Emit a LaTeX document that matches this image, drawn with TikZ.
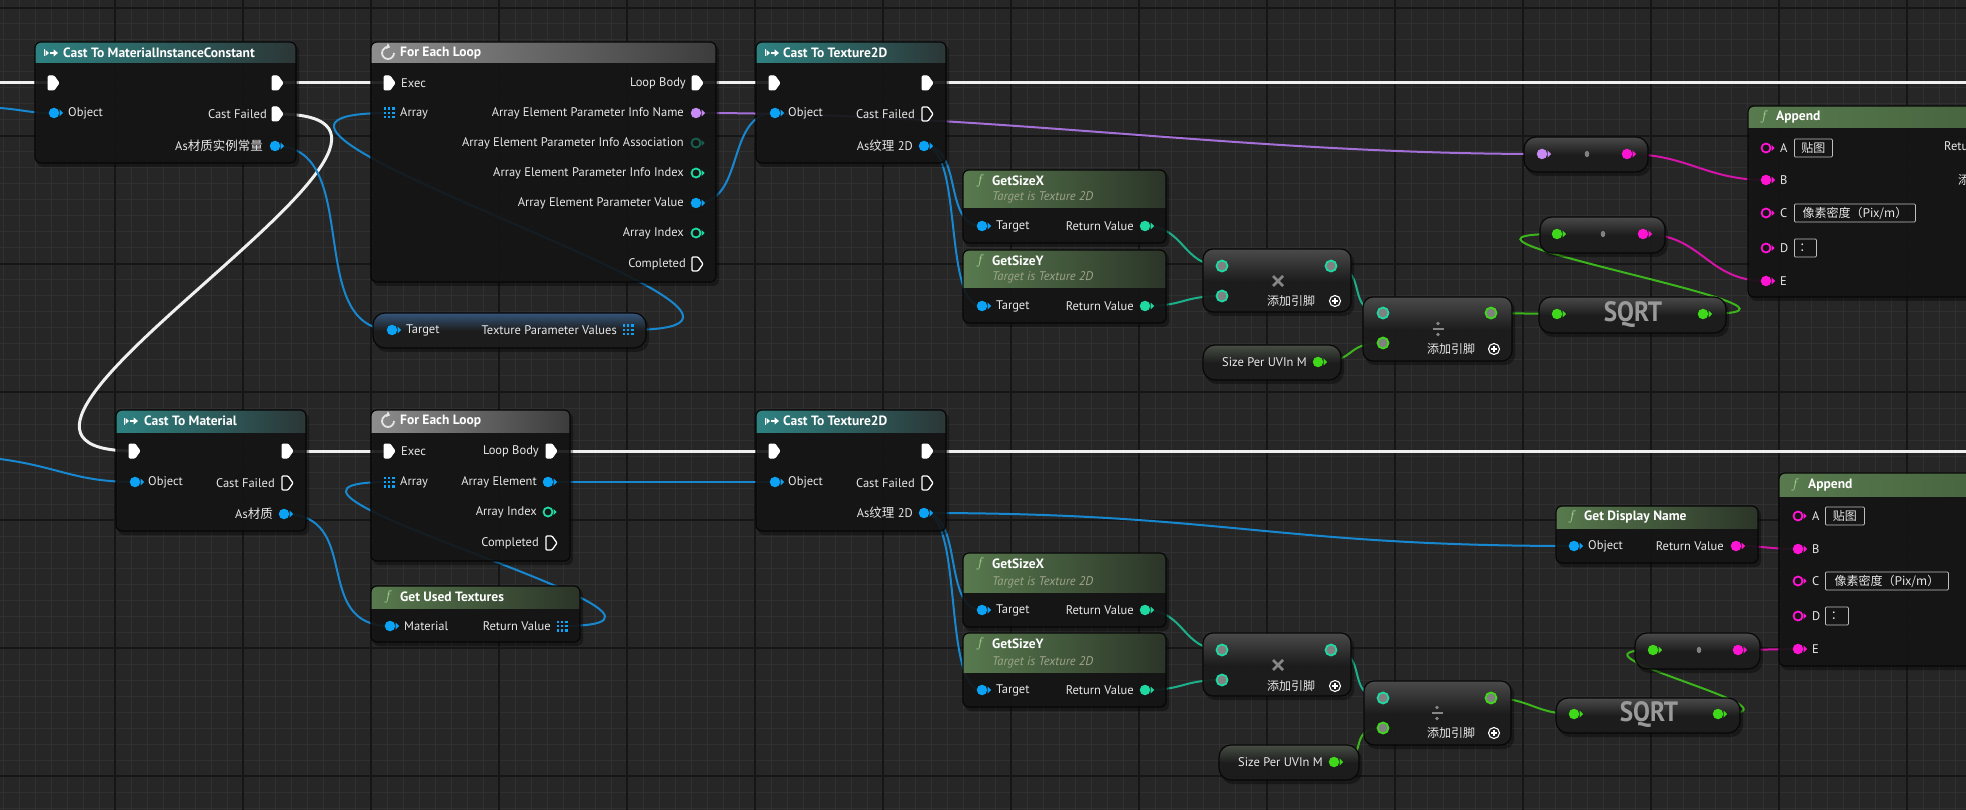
\documentclass[tikz,border=0pt]{standalone}
\usepackage{fontspec}
\usepackage{graphicx}
\setmainfont{PT Sans}
\newfontfamily\cjk{Noto Sans CJK SC}
\usetikzlibrary{arrows.meta}
\pgfdeclarelayer{gridl}
\pgfdeclarelayer{wirel}
\pgfsetlayers{gridl,wirel,main}
\definecolor{bgc}{HTML}{262626}
\definecolor{minorc}{HTML}{303030}
\definecolor{majorc}{HTML}{161616}
\definecolor{bodyc}{HTML}{151515}
\definecolor{compc}{HTML}{1d1d1d}
\definecolor{framec}{HTML}{070707}
\definecolor{castL}{HTML}{2e8282}
\definecolor{castR}{HTML}{2c3636}
\definecolor{loopL}{HTML}{8e8e8e}
\definecolor{loopR}{HTML}{3c3c3c}
\definecolor{funcL}{HTML}{587a4e}
\definecolor{funcR}{HTML}{2b3428}
\definecolor{funcM}{HTML}{46643f}
\definecolor{compTop}{HTML}{4a4a4a}
\definecolor{blueTop}{HTML}{34557a}
\definecolor{varTop}{HTML}{474e44}
\definecolor{pblue}{HTML}{0aa3f5}
\definecolor{ppurp}{HTML}{c88af5}
\definecolor{pteal}{HTML}{1ed9a2}
\definecolor{pdteal}{HTML}{17604f}
\definecolor{pgreen}{HTML}{3fd81a}
\definecolor{pmag}{HTML}{ff14d4}
\definecolor{pgray}{HTML}{808080}
\definecolor{wblue}{HTML}{1788cf}
\definecolor{wpurp}{HTML}{a46fd6}
\definecolor{wteal}{HTML}{1cb08a}
\definecolor{wgreen}{HTML}{3cb41c}
\definecolor{wmag}{HTML}{d414a8}
\definecolor{txtc}{HTML}{e8e8e8}
\definecolor{subc}{HTML}{9ea58a}
\definecolor{fcol}{HTML}{a6d58e}
\definecolor{symc}{HTML}{9a9a9a}

\newcommand\uebox[8]{%
  \fill[black,opacity=0.35,rounded corners=6] (#2+2,#3+3) rectangle (#4+3,#5+4);
  \begin{scope}
    \clip[rounded corners=6] (#2,#3) rectangle (#4,#5);
    \fill[bodyc,fill opacity=0.88] (#2,#3) rectangle (#4,#5);
    \shade[left color=#7,right color=#8] (#2,#3) rectangle (#4,#6);
  \end{scope}
  \node[nodeframe,minimum width={(#4-#2)*1pt},minimum height={(#5-#3)*1pt}] (#1) at ({(#2+#4)/2},{(#3+#5)/2}) {};
}
\newcommand\uecomp[7]{%
  \fill[black,opacity=0.35,rounded corners=#7] (#2+2,#3+3) rectangle (#4+3,#5+4);
  \begin{scope}
    \clip[rounded corners=#7] (#2,#3) rectangle (#4,#5);
    \fill[compc,fill opacity=0.9] (#2,#3) rectangle (#4,#5);
    \shade[top color=#6,bottom color=compc] (#2,#3) rectangle (#4,{#3+(#5-#3)*0.5});
  \end{scope}
  \node[nodeframe,rounded corners=#7,minimum width={(#4-#2)*1pt},minimum height={(#5-#3)*1pt}] (#1) at ({(#2+#4)/2},{(#3+#5)/2}) {};
}
\newcommand\dpin[4]{%
  \fill[#4] (#2+5.5,#3-3.5) -- (#2+9,#3) -- (#2+5.5,#3+3.5) -- cycle;
  \node[circle,inner sep=0,minimum size=10.5,fill=#4] (#1) at (#2,#3) {};
}
\newcommand\hpin[4]{%
  \fill[#4] (#2+5.5,#3-3) -- (#2+8.5,#3) -- (#2+5.5,#3+3) -- cycle;
  \node[circle,inner sep=0,minimum size=9,draw=#4,line width=1.8] (#1) at (#2,#3) {};
}
\newcommand\rpin[4]{%
  \node[circle,inner sep=0,minimum size=11,draw=#4,fill=pgray,line width=1.8] (#1) at (#2,#3) {};
}
\newcommand\epin[3]{%
  \filldraw[white,line width=1,rounded corners=1] (#2-5,#3-7) -- (#2+1,#3-7) -- (#2+6,#3) -- (#2+1,#3+7) -- (#2-5,#3+7) -- cycle;
  \coordinate (#1) at (#2,#3);
}
\newcommand\ehpin[3]{%
  \draw[white,line width=1.3,rounded corners=1] (#2-5,#3-7) -- (#2+1,#3-7) -- (#2+6,#3) -- (#2+1,#3+7) -- (#2-5,#3+7) -- cycle;
  \coordinate (#1) at (#2,#3);
}
\newcommand\apin[4]{%
  \foreach \ii in {-1,0,1}{\foreach \jj in {-1,0,1}{\fill[#4] (#2+4.2*\ii-1.3,#3+4.2*\jj-1.3) rectangle ++(2.6,2.6);}}
  \coordinate (#1) at (#2,#3);
}
\newcommand\convdot[3]{%
  \fill[pgray] (#2,#3) ellipse [x radius=2.3, y radius=3.2];
  \coordinate (#1) at (#2,#3);
}
\newcommand\addpin[3]{%
  \node[circle,draw=white,line width=1.1,inner sep=0,minimum size=11] (#1) at (#2,#3) {};
  \draw[white,line width=1.3] (#2-3,#3) -- (#2+3,#3) (#2,#3-3) -- (#2,#3+3);
}
\newcommand\fic[3]{%
  \node[inner sep=0,text=fcol] (#1) at (#2,#3) {\fontsize{15}{15}\selectfont$f$};
}
\newcommand\casticon[3]{%
  \coordinate (#1) at (#2,#3);
  \draw[white,line width=0.9] (#2,#3-3.5) -- (#2,#3+3.5);
  \fill[white] (#2+1.5,#3-3) -- (#2+5,#3) -- (#2+1.5,#3+3) -- cycle;
  \draw[white,line width=1.8,-{Triangle[length=4.5,width=7]}] (#2+6,#3) -- (#2+14,#3);
}
\newcommand\loopicon[3]{%
  \coordinate (#1) at (#2,#3);
  \draw[white!90!black,line width=1.8,-{Triangle[length=3.5,width=6]}] (#2+6,#3) arc[start angle=0,end angle=290,radius=6];
}
\newcommand\mulsym[3]{%
  \coordinate (#1) at (#2,#3);
  \draw[symc!120,line width=2.6] (#2-5,#3-5) -- (#2+5,#3+5) (#2-5,#3+5) -- (#2+5,#3-5);
}
\newcommand\divsym[3]{%
  \coordinate (#1) at (#2,#3);
  \draw[symc!120,line width=2.4] (#2-5.5,#3) -- (#2+5.5,#3);
  \fill[symc!120] (#2,#3-5.5) circle [radius=1.8] (#2,#3+5.5) circle [radius=1.8];
}

\begin{document}
\begin{tikzpicture}[x=1pt,y=-1pt,
  lbl/.style={inner sep=0,text=txtc,font=\fontsize{12.5}{14}\selectfont},
  clbl/.style={inner sep=0,text=txtc,font=\cjk\fontsize{12}{14}\selectfont},
  ttl/.style={inner sep=0,text=white,font=\bfseries\fontsize{13.5}{15}\selectfont},
  subt/.style={inner sep=0,text=subc,font=\itshape\fontsize{12.5}{14}\selectfont},
  sqrtt/.style={inner sep=0,text=symc,font=\bfseries\fontsize{28}{28}\selectfont},
  nodeframe/.style={draw=framec,line width=1.2,rounded corners=6,inner sep=0},
  valbox/.style={draw=white!75!black,line width=0.8,rounded corners=1,inner sep=0,minimum height=18,text=txtc,font=\cjk\fontsize{12}{14}\selectfont,anchor=west},
  execw/.style={draw=white!94!black,line width=3,line cap=round},
  objw/.style={draw=wblue,line width=2,line cap=round},
  namew/.style={draw=wpurp,line width=2,line cap=round},
  intw/.style={draw=wteal,line width=2,line cap=round},
  fltw/.style={draw=wgreen,line width=2,line cap=round},
  strw/.style={draw=wmag,line width=2,line cap=round}]
\useasboundingbox (0,0) rectangle (1966,810);
\begin{pgfonlayer}{gridl}
  \fill[bgc] (0,0) rectangle (1966,810);
  \foreach \gx in {3,19,...,1966} \draw[minorc,line width=1] (\gx,0) -- (\gx,810);
  \foreach \gy in {8,24,...,810} \draw[minorc,line width=1] (0,\gy) -- (1966,\gy);
  \foreach \gx in {115,243,...,1966} \draw[majorc,line width=1.6] (\gx,0) -- (\gx,810);
  \foreach \gy in {8,136,...,810} \draw[majorc,line width=1.6] (0,\gy) -- (1966,\gy);
\end{pgfonlayer}

\coordinate (L0) at (0,83);
\coordinate (L1) at (0,108);
\coordinate (L2) at (0,459);
\coordinate (R1) at (1966,83);
\coordinate (R2) at (1966,451);

% ---------- TOP ROW ----------
\uebox{n1}{35}{42}{296}{163}{63}{castL}{castR}
\casticon{n1ic}{44}{53}
\node[ttl,anchor=west] (n1t) at (63,53) {Cast To MaterialInstanceConstant};
\epin{n1ei}{53}{83} \epin{n1eo}{277}{83}
\dpin{n1obj}{54}{113}{pblue} \node[lbl,anchor=west] (n1l1) at (68,113) {Object};
\epin{n1cf}{277}{114} \node[lbl,anchor=east] (n1l2) at (267,114) {Cast Failed};
\dpin{n1as}{275}{146}{pblue} \node[lbl,anchor=east] (n1l3) at (263,146) {As{\cjk 材质实例常量}};

\uebox{n2}{371}{42}{716}{282}{63}{loopL}{loopR}
\loopicon{n2ic}{388}{53}
\node[ttl,anchor=west] (n2t) at (400,53) {For Each Loop};
\epin{n2ei}{389}{83} \node[lbl,anchor=west] (n2l1) at (401,83) {Exec};
\epin{n2lb}{697}{83} \node[lbl,anchor=east] (n2l2) at (686,83) {Loop Body};
\apin{n2ar}{389}{113}{pblue} \node[lbl,anchor=west] (n2l3) at (400,113) {Array};
\dpin{n2pn}{696}{113}{ppurp} \node[lbl,anchor=east] (n2l4) at (684,113) {Array Element Parameter Info Name};
\hpin{n2pa}{696}{143}{pdteal} \node[lbl,anchor=east] (n2l5) at (684,143) {Array Element Parameter Info Association};
\hpin{n2pi}{696}{173}{pteal} \node[lbl,anchor=east] (n2l6) at (684,173) {Array Element Parameter Info Index};
\dpin{n2pv}{696}{203}{pblue} \node[lbl,anchor=east] (n2l7) at (684,203) {Array Element Parameter Value};
\hpin{n2ai}{696}{233}{pteal} \node[lbl,anchor=east] (n2l8) at (684,233) {Array Index};
\ehpin{n2cp}{697}{264} \node[lbl,anchor=east] (n2l9) at (686,264) {Completed};

\uecomp{n3}{373}{313}{646}{348}{blueTop}{12}
\dpin{n3tg}{392}{330}{pblue} \node[lbl,anchor=west] (n3l1) at (406,330) {Target};
\node[lbl,anchor=east] (n3l2) at (617,330) {Texture Parameter Values};
\apin{n3ar}{628}{330}{pblue}

\uebox{n4}{756}{42}{946}{163}{63}{castL}{castR}
\casticon{n4ic}{765}{53}
\node[ttl,anchor=west] (n4t) at (783,53) {Cast To Texture2D};
\epin{n4ei}{774}{83} \epin{n4eo}{927}{83}
\dpin{n4obj}{775}{113}{pblue} \node[lbl,anchor=west] (n4l1) at (788,113) {Object};
\ehpin{n4cf}{927}{114} \node[lbl,anchor=east] (n4l2) at (915,114) {Cast Failed};
\dpin{n4as}{924}{146}{pblue} \node[lbl,anchor=east] (n4l3) at (913,146) {As{\cjk 纹理} 2D};

\uebox{n5}{963}{170}{1166}{243}{208}{funcL}{funcR}
\fic{n5f}{980}{181}
\node[ttl,anchor=west] (n5t) at (992,181) {GetSizeX};
\node[subt,anchor=west] (n5s) at (992,197) {Target is Texture 2D};
\dpin{n5tg}{982}{226}{pblue} \node[lbl,anchor=west] (n5l1) at (996,226) {Target};
\dpin{n5rv}{1145}{226}{pteal} \node[lbl,anchor=east] (n5l2) at (1134,226) {Return Value};

\uebox{n6}{963}{250}{1166}{323}{288}{funcL}{funcR}
\fic{n6f}{980}{261}
\node[ttl,anchor=west] (n6t) at (992,261) {GetSizeY};
\node[subt,anchor=west] (n6s) at (992,277) {Target is Texture 2D};
\dpin{n6tg}{982}{306}{pblue} \node[lbl,anchor=west] (n6l1) at (996,306) {Target};
\dpin{n6rv}{1145}{306}{pteal} \node[lbl,anchor=east] (n6l2) at (1134,306) {Return Value};

\uecomp{n7}{1203}{249}{1351}{312}{compTop}{10}
\rpin{n7a}{1222}{266}{pteal} \rpin{n7b}{1222}{296}{pteal} \rpin{n7o}{1331}{266}{pteal}
\mulsym{n7x}{1278}{281}
\node[clbl,anchor=west] (n7p) at (1267,301) {添加引脚};
\addpin{n7ap}{1335}{301}

\uecomp{n8}{1203}{345}{1341}{380}{varTop}{12}
\node[lbl,anchor=west] (n8l) at (1222,362) {Size Per UVIn M};
\dpin{n8o}{1318}{362}{pgreen}

\uecomp{n9}{1363}{297}{1512}{361}{compTop}{10}
\rpin{n9a}{1383}{313}{pteal} \rpin{n9b}{1383}{343}{pgreen} \rpin{n9o}{1491}{313}{pgreen}
\divsym{n9x}{1438}{329}
\node[clbl,anchor=west] (n9p) at (1427,349) {添加引脚};
\addpin{n9ap}{1494}{349}

\uecomp{n10}{1539}{297}{1726}{333}{compTop}{12}
\dpin{n10i}{1557}{314}{pgreen} \dpin{n10o}{1703}{314}{pgreen}
\node[sqrtt] (n10t) at (1633,315) {\scalebox{0.9}[1]{SQRT}};

\uecomp{n11}{1524}{137}{1648}{172}{compTop}{12}
\dpin{n11i}{1542}{154}{ppurp} \convdot{n11d}{1587}{154} \dpin{n11o}{1627}{154}{pmag}
\uecomp{n12}{1540}{217}{1665}{253}{compTop}{12}
\dpin{n12i}{1557}{234}{pgreen} \convdot{n12d}{1603}{234} \dpin{n12o}{1643}{234}{pmag}

\uebox{n13}{1748}{106}{1995}{297}{128}{funcL}{funcM}
\fic{n13f}{1764}{117}
\node[ttl,anchor=west] (n13t) at (1776,117) {Append};
\hpin{n13a}{1766}{148}{pmag} \node[lbl,anchor=west] (n13la) at (1780,148) {A};
\node[valbox,minimum width=38] (n13va) at (1794,148) {贴图};
\dpin{n13b}{1766}{180}{pmag} \node[lbl,anchor=west] (n13lb) at (1780,180) {B};
\hpin{n13c}{1766}{213}{pmag} \node[lbl,anchor=west] (n13lc) at (1780,213) {C};
\node[valbox,minimum width=121] (n13vc) at (1794,213) {像素密度（Pix/m）};
\hpin{n13d}{1766}{248}{pmag} \node[lbl,anchor=west] (n13ld) at (1780,248) {D};
\node[valbox,minimum width=22] (n13vd) at (1794,248) {：};
\dpin{n13e}{1766}{281}{pmag} \node[lbl,anchor=west] (n13le) at (1780,281) {E};
\node[lbl,anchor=west] (n13r) at (1944,146) {Return Value};
\node[clbl,anchor=west] (n13p) at (1958,180) {添加引脚};

% ---------- BOTTOM ROW ----------
\uebox{n14}{116}{410}{306}{531}{432}{castL}{castR}
\casticon{n14ic}{124}{421}
\node[ttl,anchor=west] (n14t) at (144,421) {Cast To Material};
\epin{n14ei}{134}{451} \epin{n14eo}{287}{451}
\dpin{n14obj}{135}{482}{pblue} \node[lbl,anchor=west] (n14l1) at (148,482) {Object};
\ehpin{n14cf}{287}{483} \node[lbl,anchor=east] (n14l2) at (275,483) {Cast Failed};
\dpin{n14as}{284}{514}{pblue} \node[lbl,anchor=east] (n14l3) at (273,514) {As{\cjk 材质}};

\uebox{n15}{371}{410}{570}{561}{432}{loopL}{loopR}
\loopicon{n15ic}{388}{421}
\node[ttl,anchor=west] (n15t) at (400,421) {For Each Loop};
\epin{n15ei}{389}{451} \node[lbl,anchor=west] (n15l1) at (401,451) {Exec};
\epin{n15lb}{551}{451} \node[lbl,anchor=east] (n15l2) at (539,451) {Loop Body};
\apin{n15ar}{389}{482}{pblue} \node[lbl,anchor=west] (n15l3) at (400,482) {Array};
\dpin{n15ae}{548}{482}{pblue} \node[lbl,anchor=east] (n15l4) at (537,482) {Array Element};
\hpin{n15ai}{548}{512}{pteal} \node[lbl,anchor=east] (n15l5) at (537,512) {Array Index};
\ehpin{n15cp}{551}{543} \node[lbl,anchor=east] (n15l6) at (539,543) {Completed};

\uebox{n16}{371}{586}{580}{642}{608}{funcL}{funcR}
\fic{n16f}{388}{597}
\node[ttl,anchor=west] (n16t) at (400,597) {Get Used Textures};
\dpin{n16mat}{390}{626}{pblue} \node[lbl,anchor=west] (n16l1) at (404,626) {Material};
\apin{n16rv}{562}{626}{pblue} \node[lbl,anchor=east] (n16l2) at (551,626) {Return Value};

\uebox{n17}{756}{410}{946}{531}{432}{castL}{castR}
\casticon{n17ic}{765}{421}
\node[ttl,anchor=west] (n17t) at (783,421) {Cast To Texture2D};
\epin{n17ei}{774}{451} \epin{n17eo}{927}{451}
\dpin{n17obj}{775}{482}{pblue} \node[lbl,anchor=west] (n17l1) at (788,482) {Object};
\ehpin{n17cf}{927}{483} \node[lbl,anchor=east] (n17l2) at (915,483) {Cast Failed};
\dpin{n17as}{924}{513}{pblue} \node[lbl,anchor=east] (n17l3) at (913,513) {As{\cjk 纹理} 2D};

\uebox{n18}{963}{553}{1166}{627}{592}{funcL}{funcR}
\fic{n18f}{980}{564}
\node[ttl,anchor=west] (n18t) at (992,564) {GetSizeX};
\node[subt,anchor=west] (n18s) at (992,582) {Target is Texture 2D};
\dpin{n18tg}{982}{610}{pblue} \node[lbl,anchor=west] (n18l1) at (996,610) {Target};
\dpin{n18rv}{1145}{610}{pteal} \node[lbl,anchor=east] (n18l2) at (1134,610) {Return Value};

\uebox{n19}{963}{633}{1166}{707}{672}{funcL}{funcR}
\fic{n19f}{980}{644}
\node[ttl,anchor=west] (n19t) at (992,644) {GetSizeY};
\node[subt,anchor=west] (n19s) at (992,662) {Target is Texture 2D};
\dpin{n19tg}{982}{690}{pblue} \node[lbl,anchor=west] (n19l1) at (996,690) {Target};
\dpin{n19rv}{1145}{690}{pteal} \node[lbl,anchor=east] (n19l2) at (1134,690) {Return Value};

\uecomp{n20}{1203}{633}{1351}{696}{compTop}{10}
\rpin{n20a}{1222}{650}{pteal} \rpin{n20b}{1222}{680}{pteal} \rpin{n20o}{1331}{650}{pteal}
\mulsym{n20x}{1278}{665}
\node[clbl,anchor=west] (n20p) at (1267,686) {添加引脚};
\addpin{n20ap}{1335}{686}

\uecomp{n21}{1219}{745}{1359}{780}{varTop}{12}
\node[lbl,anchor=west] (n21l) at (1238,762) {Size Per UVIn M};
\dpin{n21o}{1334}{762}{pgreen}

\uecomp{n22}{1364}{681}{1511}{745}{compTop}{10}
\rpin{n22a}{1383}{698}{pteal} \rpin{n22b}{1383}{728}{pgreen} \rpin{n22o}{1491}{698}{pgreen}
\divsym{n22x}{1437}{713}
\node[clbl,anchor=west] (n22p) at (1427,733) {添加引脚};
\addpin{n22ap}{1494}{733}

\uecomp{n23}{1556}{698}{1740}{733}{compTop}{12}
\dpin{n23i}{1574}{714}{pgreen} \dpin{n23o}{1718}{714}{pgreen}
\node[sqrtt] (n23t) at (1649,715) {\scalebox{0.9}[1]{SQRT}};

\uecomp{n24}{1635}{633}{1760}{669}{compTop}{12}
\dpin{n24i}{1653}{650}{pgreen} \convdot{n24d}{1699}{650} \dpin{n24o}{1738}{650}{pmag}

\uebox{n25}{1556}{506}{1758}{563}{528}{funcL}{funcR}
\fic{n25f}{1572}{517}
\node[ttl,anchor=west] (n25t) at (1584,517) {Get Display Name};
\dpin{n25obj}{1574}{546}{pblue} \node[lbl,anchor=west] (n25l1) at (1588,546) {Object};
\dpin{n25rv}{1736}{546}{pmag} \node[lbl,anchor=east] (n25l2) at (1724,546) {Return Value};

\uebox{n26}{1779}{473}{1995}{666}{496}{funcL}{funcM}
\fic{n26f}{1795}{485}
\node[ttl,anchor=west] (n26t) at (1808,485) {Append};
\hpin{n26a}{1798}{516}{pmag} \node[lbl,anchor=west] (n26la) at (1812,516) {A};
\node[valbox,minimum width=39] (n26va) at (1825,516) {贴图};
\dpin{n26b}{1798}{549}{pmag} \node[lbl,anchor=west] (n26lb) at (1812,549) {B};
\hpin{n26c}{1798}{581}{pmag} \node[lbl,anchor=west] (n26lc) at (1812,581) {C};
\node[valbox,minimum width=123] (n26vc) at (1825,581) {像素密度（Pix/m）};
\hpin{n26d}{1798}{616}{pmag} \node[lbl,anchor=west] (n26ld) at (1812,616) {D};
\node[valbox,minimum width=23] (n26vd) at (1825,616) {：};
\dpin{n26e}{1798}{649}{pmag} \node[lbl,anchor=west] (n26le) at (1812,649) {E};

% ---------- WIRES ----------
\begin{pgfonlayer}{wirel}
  \draw[execw] (L0) -- (n1ei.center);
  \draw[execw] (n1eo.center) -- (n2ei.center);
  \draw[execw] (n2lb.center) -- (n4ei.center);
  \draw[execw] (n4eo.center) -- (R1);
  \draw[execw] (n1cf.center) .. controls +(235,0) and +(-235,0) .. (n14ei.center);
  \draw[execw] (n14eo.center) -- (n15ei.center);
  \draw[execw] (n15lb.center) -- (n17ei.center);
  \draw[execw] (n17eo.center) -- (R2);
  \draw[objw] (L1) .. controls +(25,2) and +(-25,0) .. (n1obj.center);
  \draw[objw] (n1as.center) .. controls +(90,0) and +(-90,0) .. (n3tg.center);
  \draw[objw] (n3ar.center) .. controls +(260,0) and +(-260,0) .. (n2ar.center);
  \draw[objw] (n2pv.center) .. controls +(50,0) and +(-50,0) .. (n4obj.center);
  \draw[namew] (n2pn.center) .. controls +(300,0) and +(-300,0) .. (n11i.center);
  \draw[objw] (n4as.center) .. controls +(40,0) and +(-40,0) .. (n5tg.center);
  \draw[objw] (n4as.center) .. controls +(40,0) and +(-40,0) .. (n6tg.center);
  \draw[intw] (n5rv.center) .. controls +(40,0) and +(-40,0) .. (n7a.center);
  \draw[intw] (n6rv.center) .. controls +(40,0) and +(-40,0) .. (n7b.center);
  \draw[intw] (n7o.center) .. controls +(40,0) and +(-40,0) .. (n9a.center);
  \draw[fltw] (n8o.center) .. controls +(40,0) and +(-40,0) .. (n9b.center);
  \draw[fltw] (n9o.center) -- (n10i.center);
  \draw[fltw] (n10o.center) .. controls +(170,0) and +(-170,0) .. (n12i.center);
  \draw[strw] (n11o.center) .. controls +(60,0) and +(-60,0) .. (n13b.center);
  \draw[strw] (n12o.center) .. controls +(60,0) and +(-60,0) .. (n13e.center);
  \draw[objw] (L2) .. controls +(60,8) and +(-60,0) .. (n14obj.center);
  \draw[objw] (n14as.center) .. controls +(80,0) and +(-80,0) .. (n16mat.center);
  \draw[objw] (n16rv.center) .. controls +(200,0) and +(-200,0) .. (n15ar.center);
  \draw[objw] (n15ae.center) .. controls +(80,0) and +(-80,0) .. (n17obj.center);
  \draw[objw] (n17as.center) .. controls +(300,0) and +(-300,0) .. (n25obj.center);
  \draw[objw] (n17as.center) .. controls +(40,0) and +(-40,0) .. (n18tg.center);
  \draw[objw] (n17as.center) .. controls +(40,0) and +(-40,0) .. (n19tg.center);
  \draw[intw] (n18rv.center) .. controls +(40,0) and +(-40,0) .. (n20a.center);
  \draw[intw] (n19rv.center) .. controls +(40,0) and +(-40,0) .. (n20b.center);
  \draw[intw] (n20o.center) .. controls +(40,0) and +(-40,0) .. (n22a.center);
  \draw[fltw] (n21o.center) .. controls +(40,0) and +(-40,0) .. (n22b.center);
  \draw[fltw] (n22o.center) .. controls +(40,0) and +(-40,0) .. (n23i.center);
  \draw[fltw] (n23o.center) .. controls +(110,0) and +(-110,0) .. (n24i.center);
  \draw[strw] (n25rv.center) .. controls +(30,0) and +(-30,0) .. (n26b.center);
  \draw[strw] (n24o.center) .. controls +(30,0) and +(-30,0) .. (n26e.center);
\end{pgfonlayer}
\end{tikzpicture}
\end{document}
